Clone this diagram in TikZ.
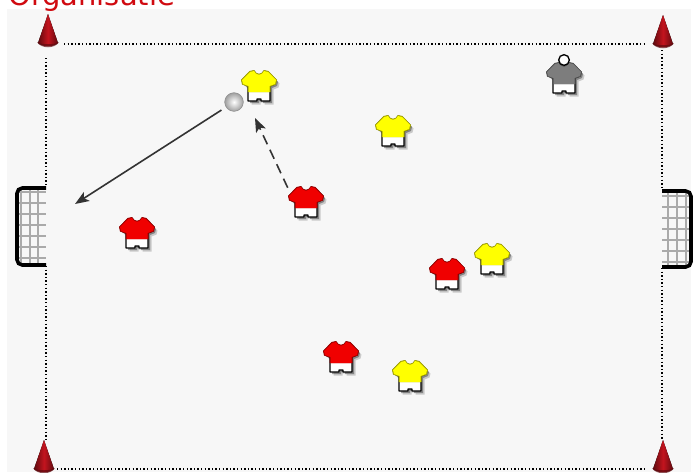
\documentclass[tikz,border=0pt]{standalone}
\usepackage{fontspec}
\setmainfont{DejaVu Sans}
\usetikzlibrary{arrows.meta,positioning,calc,shapes.geometric}
\definecolor{field}{RGB}{247,247,247}
\definecolor{titlered}{RGB}{208,10,16}
\definecolor{conered}{RGB}{196,20,30}
\definecolor{conedark}{RGB}{95,10,15}
\definecolor{shirtgrey}{RGB}{125,125,125}
\definecolor{shirtyellow}{RGB}{255,255,0}
\definecolor{shirtred}{RGB}{240,0,0}
\definecolor{netgrey}{RGB}{170,170,170}
\tikzset{
  player/.style={minimum width=27pt,minimum height=21pt,inner sep=0pt},
  boundary/.style={line width=0.8pt,dash pattern=on 1.1pt off 1.6pt},
  goalframe/.style={line width=2.7pt,rounded corners=4pt},
  netline/.style={netgrey,line width=0.8pt},
  run/.style={->,line width=1.2pt,black!80},
  shirtpath/.pic={
    \path[pic actions] (-5,-15) .. controls (-3,-10) and (3,-10) .. (5,-15) -- (9,-14)
      -- (17,-6) -- (16,-2) -- (11,0) -- (11,15) -- (2,15) -- (2,13) -- (-2,13) -- (-2,15) -- (-11,15)
      -- (-11,0) -- (-16,-2) -- (-17,-6) -- (-9,-14) -- cycle;
  },
  shirt/.pic={
    \pic[fill=black,opacity=.18] at (3.5,3.5) {shirtpath};
    \pic[fill=black,opacity=.35] at (2,2) {shirtpath};
    \pic[fill=white,draw=black,line width=0.9pt,line join=round] {shirtpath};
    \fill[#1!65!black] (-5,-16) .. controls (-3,-11) and (3,-11) .. (5,-16) -- (9.5,-15)
      -- (18,-6) -- (17,-1.5) -- (11.5,0.5) -- (11.5,6) -- (-11.5,6) -- (-11.5,0.5) -- (-17,-1.5) -- (-18,-6) -- (-9.5,-15) -- cycle;
    \fill[#1] (-5,-15) .. controls (-3,-10) and (3,-10) .. (5,-15) -- (9,-14)
      -- (17,-6) -- (16,-2) -- (10.5,0) -- (10.5,6) -- (-10.5,6) -- (-10.5,0) -- (-16,-2) -- (-17,-6) -- (-9,-14) -- cycle;
  },
  cone/.pic={
    \fill[left color=conedark,right color=conedark,middle color=conered] (0,-18) -- (-10,11)
      .. controls (-5,15) and (5,15) .. (10,11) -- cycle;
    \fill[conedark,opacity=.7] (-11,10) .. controls (-7,17) and (7,17) .. (11,10)
      .. controls (7,13) and (-7,13) .. cycle;
  }
}

\begin{document}
\begin{tikzpicture}[x=0.75pt,y=-0.75pt,>={Stealth[length=10.5pt,width=8pt,inset=2.5pt]}]
\useasboundingbox (0,0) rectangle (698,472);
\clip (0,0) rectangle (698,472);
\fill[white] (0,0) rectangle (698,472);
\fill[field] (7,9) rectangle (691,472);
\node[anchor=base west,inner sep=0pt,text=titlered,font=\fontsize{21.7pt}{24pt}\selectfont] (title) at (8,5) {Organisatie};

% boundary
\draw[boundary] (64,44) -- (645,44);
\draw[boundary] (57,469) -- (645,469);
\draw[boundary] (46,58) -- (46,187);
\draw[boundary] (46,266) -- (46,440);
\draw[boundary] (662,50) -- (662,190);
\draw[boundary] (662,268) -- (662,440);

% goals
\foreach \xx in {21,30,38} \draw[netline] (\xx,188) -- (\xx,265);
\foreach \yy in {192,203,214,225,236,247,258} \draw[netline] (17,\yy) -- (46,\yy);
\draw[goalframe] (46,188) -- (17,188) -- (17,265) -- (46,265);
\foreach \xx in {668,677,686} \draw[netline] (\xx,192) -- (\xx,268);
\foreach \yy in {196,207,218,229,240,251,262} \draw[netline] (662,\yy) -- (691,\yy);
\draw[goalframe] (662,191) -- (691,191) -- (691,267) -- (662,267);

% cones
\pic at (48,32) {cone};
\pic at (663,33) {cone};
\pic at (44,458) {cone};
\pic at (663,458) {cone};

% players
\node[player] (yellowA) at (259,86) {};
\node[player] (yellowB) at (393,131) {};
\node[player] (yellowC) at (492,259) {};
\node[player] (yellowD) at (410,376) {};
\node[player] (redA) at (306,202) {};
\node[player] (redB) at (137,233) {};
\node[player] (redC) at (447,274) {};
\node[player] (redD) at (341,357) {};
\node[player] (trainer) at (564,78) {};
\foreach \n in {yellowA,yellowB,yellowC,yellowD} \pic at (\n) {shirt=shirtyellow};
\foreach \n in {redA,redB,redC,redD} \pic at (\n) {shirt=shirtred};
\pic at (trainer) {shirt=shirtgrey};
\node[circle,draw=black,fill=white,line width=1pt,minimum size=8pt,inner sep=0pt] (head) at (564,60) {};

% ball and runs
\node[circle,draw=gray!90,inner color=white,outer color=gray!75,minimum size=14pt,inner sep=0pt] (ball) at (234,102) {};
\coordinate (shot) at (75,204);
\coordinate (runend) at (255,118);
\draw[run,shorten <=4pt] (ball) -- (shot);
\draw[run,dash pattern=on 7.5pt off 4.5pt] (redA.north west) -- (runend);
\end{tikzpicture}
\end{document}
